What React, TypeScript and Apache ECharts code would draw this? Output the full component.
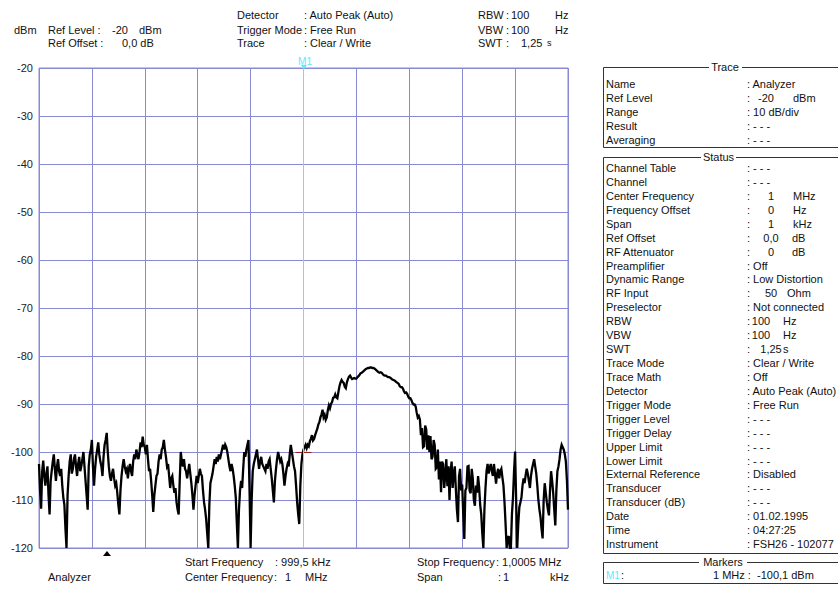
import React, { useEffect, useRef } from "react";
import * as echarts from "echarts";

// Sweep: 501 points from -500 Hz to +500 Hz around the 1 MHz centre
const sweepStartHz = -500;
const sweepStepHz = 2;
// Measured level of each sweep point (dBm)
const levelDbm = [
  -102.5, -108, -111.8, -104, -101.8, -105, -107, -104.5, -103, -109, -113, -106, -104, -102, -100.5, -103.5, -106, -103, -101.5, -104,
  -105, -103.5, -107, -109.5, -111, -116, -120, -109, -105, -102, -100.5, -104.5, -103.5, -101.5, -100.5, -103, -105, -102.5, -101, -104,
  -103, -101.5, -100, -103, -106, -109, -112, -103, -100.5, -99.5, -97.5, -103, -107, -103.5, -101, -99.5, -98, -100.5, -102, -103,
  -105, -101, -98.5, -97.5, -96, -100, -103, -105, -106, -104.5, -103.5, -105.5, -107, -106.5, -108.5, -111, -113, -108, -105, -103,
  -101.5, -103, -104, -103.5, -105.5, -103.5, -102.5, -104, -105, -102, -100.5, -101.5, -99.5, -100.5, -101.5, -100, -98, -99, -96.8, -98.5,
  -99, -100.5, -98.5, -101.5, -104, -103.5, -106, -109, -112.5, -109, -107, -105, -104.5, -102, -100.5, -101.5, -99.5, -99, -97.5, -99.5,
  -101, -103, -102.5, -105, -107.5, -105.5, -105, -107, -108.5, -107.5, -110.5, -112, -113, -106, -100, -102, -103, -101.5, -103.5, -104,
  -105.5, -104, -102.5, -104.5, -106.5, -109, -112, -109, -107, -105, -106.5, -105, -103.5, -104.5, -105, -108, -110.5, -112, -114, -117,
  -120, -111, -106.5, -105.5, -104.5, -103, -101.5, -102.5, -101, -102, -100.5, -101.5, -100.5, -99.5, -98.5, -99.5, -98.5, -99, -100, -101.5,
  -103, -104, -102.5, -103.5, -105, -107, -109.5, -115, -120, -112, -108, -106, -107.5, -103.5, -100, -101, -99.5, -98.5, -97.5, -108,
  -120, -110, -104, -102.5, -101.5, -100.5, -99.5, -101.5, -103.5, -102, -101, -102.5, -103, -103.5, -104, -102.5, -103.5, -102, -101.5, -103.5,
  -105.5, -108, -110.5, -106, -103.5, -101.5, -100, -101, -102, -101.5, -102.5, -104.5, -107, -105, -103.5, -102.5, -103, -100.5, -98.5, -100,
  -101.5, -103, -104, -107, -110.5, -113, -115, -107, -102.5, -100.5, -99.5, -99, -98.5, -99.2, -98.5, -98.8, -97.8, -97.2, -96.5, -97.6,
  -97.3, -96.5, -95.8, -95.2, -94.3, -93.8, -92.8, -92.2, -91.2, -92.8, -92.3, -93.3, -92.8, -91.3, -90.3, -90.9, -90, -89.6, -88.7, -88.6,
  -88, -88.6, -88.8, -87.5, -86.3, -85.5, -85, -85.4, -85.6, -86.4, -86.7, -85.5, -84.8, -84.3, -84.1, -84.5, -84.8, -84.7, -84.6, -84.7,
  -84.7, -84.4, -84.2, -83.9, -83.6, -83.5, -83.3, -83.1, -82.9, -82.7, -82.6, -82.5, -82.5, -82.4, -82.4, -82.5, -82.5, -82.6, -82.8, -83,
  -83.2, -83.4, -83.5, -83.4, -83.5, -83.8, -84, -84.1, -84.1, -84.3, -84.4, -84.4, -84.5, -84.7, -84.9, -85, -85.1, -85.3, -85.5, -85.6,
  -85.8, -86.3, -86.5, -86.5, -86.8, -87.4, -87.7, -87.6, -87.9, -88.5, -88.8, -88.8, -89.2, -89.8, -90.1, -90.1, -90.5, -91.8, -92.8, -92.5,
  -93.2, -96.5, -95, -99, -98.8, -94.5, -95.3, -99.5, -96.5, -100, -96.7, -101.5, -101, -97.5, -98.5, -103.5, -103.2, -99.5, -105.7, -102,
  -108.4, -102, -102.5, -107.5, -104.8, -101.5, -107.1, -103, -110, -104, -102, -107.5, -104.5, -103, -107.7, -112, -114.6, -105, -103.5, -108,
  -106.8, -113, -118.1, -108, -107.5, -103, -102.9, -108, -108.6, -103.5, -105.5, -110, -111.2, -107, -108.5, -105, -107.3, -111, -113, -117,
  -120, -112, -107.5, -104, -102.5, -104.5, -103.3, -102.5, -104, -105, -102.5, -104.5, -106.6, -104.5, -103.5, -105.5, -104, -103.5, -105.3, -107,
  -110.5, -115, -120, -118, -117.5, -120, -120, -113, -109.5, -104, -99.9, -110, -120, -115, -111.5, -110.5, -109.5, -107, -105.5, -106.5,
  -104.8, -103.5, -104.5, -106, -107.5, -105, -103.5, -102.5, -101.5, -103, -104.5, -107, -110, -112, -113.5, -116, -118, -110, -106.5, -108.5,
  -110.5, -112, -113.2, -108, -104, -106, -108.5, -112, -115.3, -108, -104, -103, -101.5, -99.5, -98.5, -99, -99.5, -100.5, -102, -106,
  -112,
];

const yMin = -120;
const yMax = -20;
const yStep = 10;
const xMin = -500;
const xMax = 500;
const xStep = 100;
const markerHz = 0;
const markerDbm = -100.1;

const headerLeft = ["dBm", "Ref Level :", "-20", "dBm", "Ref Offset :", "0,0 dB"];
const headerMidLabels = ["Detector", "Trigger Mode", "Trace"];
const headerMidValues = [": Auto Peak (Auto)", ": Free Run", ": Clear / Write"];
const headerRightLabels = ["RBW", "VBW", "SWT"];
const headerRightValues = ["100", "100", "1,25"];
const headerRightUnits = ["Hz", "Hz", "s"];

const traceLabels = ["Name", "Ref Level", "Range", "Result", "Averaging"];
const traceValues = [[": Analyzer"], [":", "-20", "dBm"], [": 10 dB/div"], [": - - -"], [": - - -"]];

const statusLabels = [
  "Channel Table", "Channel", "Center Frequency", "Frequency Offset", "Span", "Ref Offset",
  "RF Attenuator", "Preamplifier", "Dynamic Range", "RF Input", "Preselector", "RBW", "VBW",
  "SWT", "Trace Mode", "Trace Math", "Detector", "Trigger Mode", "Trigger Level", "Trigger Delay",
  "Upper Limit", "Lower Limit", "External Reference", "Transducer", "Transducer (dB)", "Date",
  "Time", "Instrument",
];
const statusValues = [
  [": - - -"], [": - - -"], [":", "1", "MHz"], [":", "0", "Hz"], [":", "1", "kHz"], [":", "0,0", "dB"],
  [":", "0", "dB"], [": Off"], [": Low Distortion"], [":", "50", "Ohm"], [": Not connected"],
  [":", "100", "Hz"], [":", "100", "Hz"], [":", "1,25", "s"], [": Clear / Write"], [": Off"],
  [": Auto Peak (Auto)"], [": Free Run"], [": - - -"], [": - - -"], [": - - -"], [": - - -"],
  [": Disabled"], [": - - -"], [": - - -"], [": 01.02.1995"], [": 04:27:25"], [": FSH26 - 102077"],
];

const markerName = "M1";
const markerText = "1 MHz :  -100,1 dBm";

const bottomStartLabel = "Start Frequency";
const bottomStartValue = ": 999,5 kHz";
const bottomCenterLabel = "Center Frequency";
const bottomCenterValue = ["1", "MHz"];
const bottomStopLabel = "Stop Frequency";
const bottomStopValue = ": 1,0005 MHz";
const bottomSpanLabel = "Span";
const bottomSpanValue = ["1", "kHz"];
const bottomName = "Analyzer";

const FONT = "'Liberation Sans', Arial, sans-serif";

function txt(text: string, x: number, y: number, extra: any = {}) {
  return {
    type: "text",
    x,
    y,
    silent: true,
    style: {
      text,
      fill: extra.fill || "#111",
      font: `${extra.size || 11}px ${FONT}`,
      align: extra.align || "left",
      verticalAlign: "middle",
    },
    z: 10,
  };
}

function ln(x1: number, y1: number, x2: number, y2: number, color = "#333") {
  return {
    type: "line",
    silent: true,
    shape: { x1, y1, x2, y2 },
    style: { stroke: color, lineWidth: 1 },
    z: 10,
  };
}

export default function App() {
  const ref = useRef<HTMLDivElement>(null);

  useEffect(() => {
    if (!ref.current) return;
    const chart = echarts.init(ref.current, null, { renderer: "svg" });
    const traceData = levelDbm.map((v, i) => [sweepStartHz + i * sweepStepHz, v]);

    const g: any[] = [];
    // header
    const hy = [15, 30, 43];
    g.push(txt(headerLeft[0], 14, hy[1]));
    g.push(txt(headerLeft[1], 48, hy[1]));
    g.push(txt(headerLeft[2], 112, hy[1]));
    g.push(txt(headerLeft[3], 139, hy[1]));
    g.push(txt(headerLeft[4], 48, hy[2]));
    g.push(txt(headerLeft[5], 122, hy[2]));
    headerMidLabels.forEach((l, i) => {
      g.push(txt(l, 237, hy[i]));
      g.push(txt(headerMidValues[i], 304, hy[i]));
    });
    headerRightLabels.forEach((l, i) => {
      g.push(txt(l, 478, hy[i]));
      g.push(txt(":", 506, hy[i]));
      g.push(txt(headerRightValues[i], i === 2 ? 521 : 511, hy[i]));
      g.push(txt(headerRightUnits[i], i === 2 ? 547 : 555, hy[i], i === 2 ? { size: 9 } : {}));
    });

    // marker M1 label + triangle
    g.push(txt(markerName, 305, 61, { fill: "#55eeff", align: "center", size: 10 }));
    g.push({
      type: "polygon",
      silent: true,
      shape: { points: [[301, 65], [307, 65], [304, 69]] },
      style: { fill: "#55eeff" },
      z: 10,
    });
    // bottom reference triangle
    g.push({
      type: "polygon",
      silent: true,
      shape: { points: [[103, 556], [111, 556], [107, 551]] },
      style: { fill: "#000" },
      z: 10,
    });

    // bottom texts
    g.push(txt(bottomStartLabel, 185, 562));
    g.push(txt(bottomStartValue, 275, 562));
    g.push(txt(bottomCenterLabel, 185, 577));
    g.push(txt(":", 274, 577));
    g.push(txt(bottomCenterValue[0], 285, 577));
    g.push(txt(bottomCenterValue[1], 305, 577));
    g.push(txt(bottomStopLabel, 417, 562));
    g.push(txt(bottomStopValue, 496, 562));
    g.push(txt(bottomSpanLabel, 417, 577));
    g.push(txt(":", 498, 577));
    g.push(txt(bottomSpanValue[0], 503, 577));
    g.push(txt(bottomSpanValue[1], 550, 577));
    g.push(txt(bottomName, 48, 577));

    // right panel: Trace box
    const bx = 603.5;
    const bR = 850;
    g.push(ln(bx, 67.5, 709, 67.5));
    g.push(ln(742, 67.5, bR, 67.5));
    g.push(ln(bx, 67.5, bx, 147.5));
    g.push(ln(bx, 147.5, bR, 147.5));
    g.push(txt("Trace", 725, 67, { align: "center" }));
    const labelX = 606;
    const colonX = 747;
    traceLabels.forEach((l, i) => {
      const y = 84 + i * 14;
      g.push(txt(l, labelX, y));
      const v = traceValues[i];
      if (v.length === 1) g.push(txt(v[0], colonX, y));
      else {
        g.push(txt(v[0], colonX, y));
        g.push(txt(v[1], 758, y));
        g.push(txt(v[2], 793, y));
      }
    });

    // Status box
    g.push(ln(bx, 157.5, 701, 157.5));
    g.push(ln(736, 157.5, bR, 157.5));
    g.push(ln(bx, 157.5, bx, 553.5));
    g.push(ln(bx, 553.5, bR, 553.5));
    g.push(txt("Status", 718.5, 157, { align: "center" }));
    const unitX: Record<string, number> = { MHz: 793, Hz: 793, kHz: 793, dB: 792, Ohm: 787 };
    statusLabels.forEach((l, i) => {
      const y = 168 + i * 13.93;
      g.push(txt(l, labelX, y));
      const v = statusValues[i];
      if (v.length === 1) g.push(txt(v[0], colonX, y));
      else {
        g.push(txt(v[0], colonX, y));
        const isBw = v[1] === "100";
        g.push(txt(v[1], isBw ? 761 : 771, y, { align: "center" }));
        const ux = isBw || v[2] === "s" ? 783 : unitX[v[2]] ?? 793;
        g.push(txt(v[2], ux, y));
      }
    });

    // Markers box
    g.push(ln(bx, 562.5, 699, 562.5));
    g.push(ln(747, 562.5, bR, 562.5));
    g.push(ln(bx, 562.5, bx, 583.5));
    g.push(ln(bx, 583.5, bR, 583.5));
    g.push(txt("Markers", 723, 562, { align: "center" }));
    g.push(txt(markerName, labelX, 575, { fill: "#55eeff", size: 10 }));
    g.push(txt(":", 621, 575));
    g.push(txt(markerText, 713, 575));

    const gridColor = "#8a8ad2";

    chart.setOption({
      animation: false,
      backgroundColor: "#ffffff",
      grid: {
        left: 39,
        top: 68,
        width: 529,
        height: 480,
        show: true,
        borderColor: gridColor,
        borderWidth: 1,
        containLabel: false,
      },
      xAxis: {
        type: "value",
        min: xMin,
        max: xMax,
        interval: xStep,
        axisLine: { show: false },
        axisTick: { show: false },
        axisLabel: { show: false },
        splitLine: { show: true, lineStyle: { color: gridColor, width: 1 } },
      },
      yAxis: {
        type: "value",
        min: yMin,
        max: yMax,
        interval: yStep,
        axisLine: { show: false },
        axisTick: { show: false },
        axisLabel: {
          show: true,
          color: "#222",
          fontSize: 11,
          fontFamily: FONT,
          margin: 6,
        },
        splitLine: { show: true, lineStyle: { color: gridColor, width: 1 } },
      },
      series: [
        {
          type: "line",
          z: 1,
          data: [
            [markerHz - 15, markerDbm],
            [markerHz + 15, markerDbm],
          ],
          symbol: "none",
          lineStyle: { color: "#9a1a1a", width: 1 },
          silent: true,
          markLine: {
            silent: true,
            symbol: "none",
            label: { show: false },
            lineStyle: { color: "#f2a0d0", width: 1, type: "solid" },
            data: [{ xAxis: markerHz }],
          },
        },
        {
          type: "line",
          z: 2,
          data: traceData,
          symbol: "none",
          silent: true,
          lineStyle: { color: "#000", width: 2.3, join: "miter", miterLimit: 4 },
        },
      ],
      graphic: g,
    });

    return () => chart.dispose();
  }, []);

  return (
    <div
      ref={ref}
      style={{ position: "fixed", left: 0, top: 0, width: 838, height: 603, background: "#fff" }}
    />
  );
}
